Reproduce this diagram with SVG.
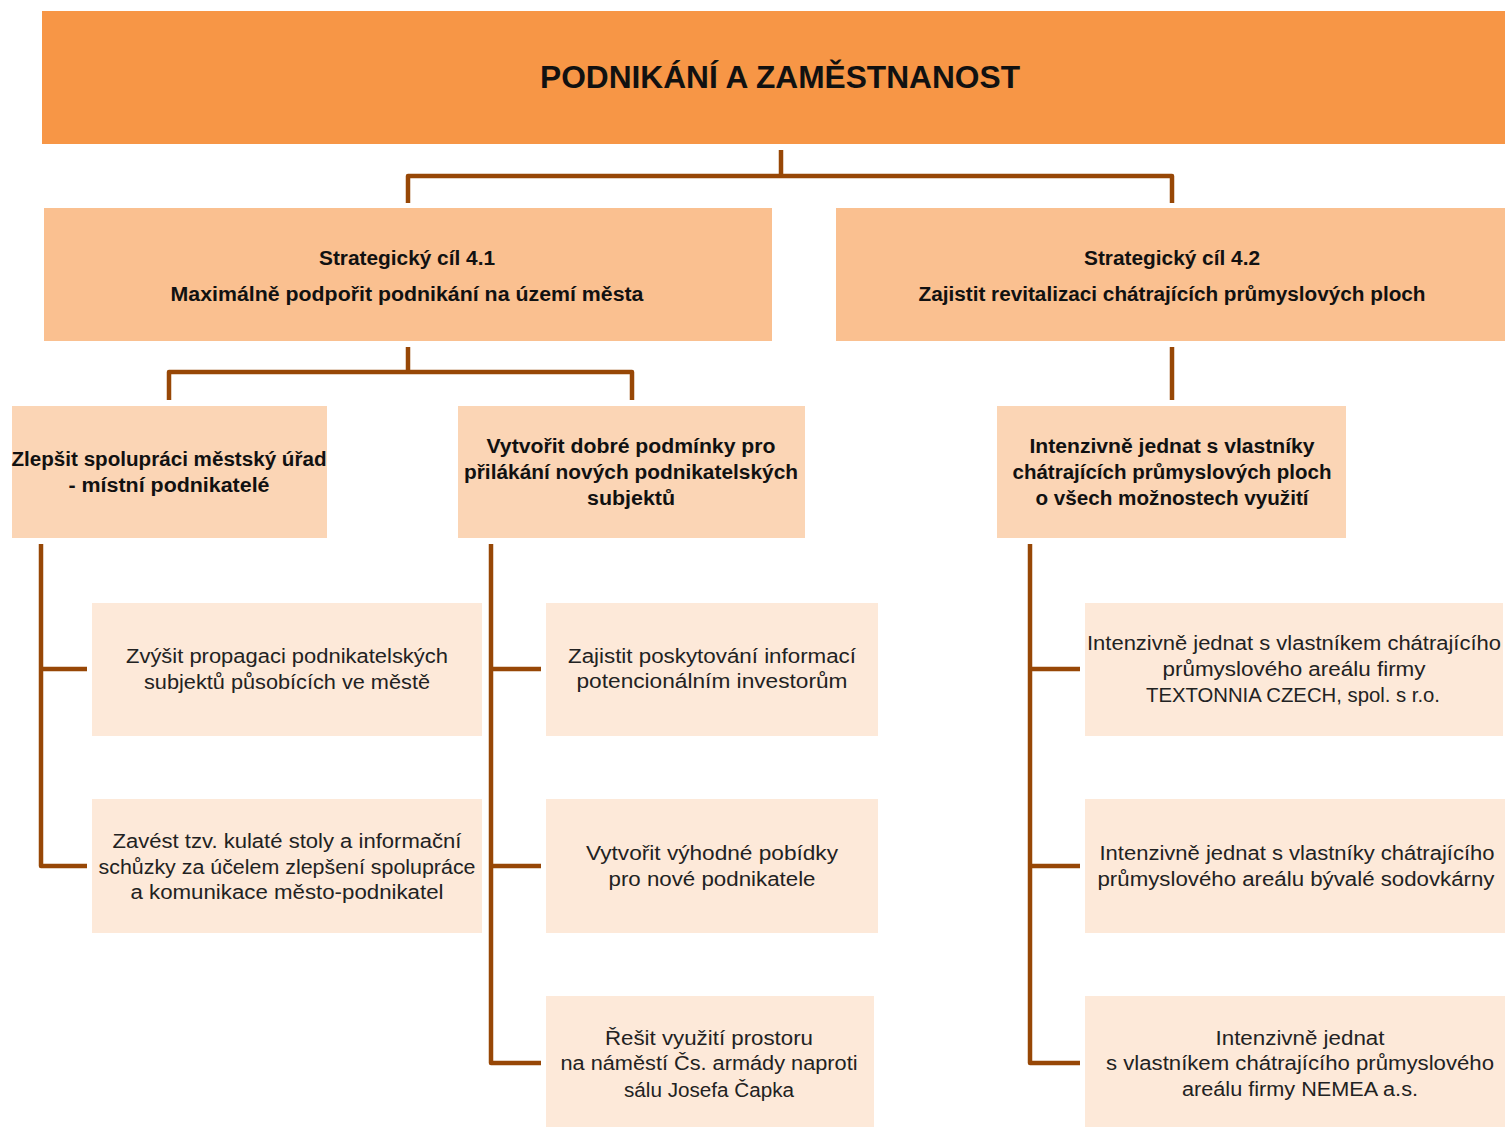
<svg xmlns="http://www.w3.org/2000/svg" width="1505" height="1127" viewBox="0 0 1505 1127">
<style>
.t{font-family:"Liberation Sans",Arial,sans-serif;text-anchor:middle;fill:#111}
.b{font-weight:bold}
.h1{font-size:31px}
.h2{font-size:20px}
.h3{font-size:20px}
.h4{font-size:20px;fill:#222}
.c0{fill:#F79646}
.c1{fill:#FAC090}
.c2{fill:#FBD5B5}
.c3{fill:#FDE9D9}
.con{fill:none;stroke:#974706;stroke-width:4.5;stroke-linejoin:round;stroke-linecap:butt}
</style>
<rect width="1505" height="1127" fill="#fff"/>
<g id="connectors">
<path class="con" d="M781,150 V176 M408,203 V176 H1172 V203"/>
<path class="con" d="M408,347 V372 M169,400 V372 H632 V400"/>
<path class="con" d="M1172,347 V400"/>
<path class="con" d="M41,544 V866 H87 M41,669 H87"/>
<path class="con" d="M491,544 V1063 H541 M491,669 H541 M491,866 H541"/>
<path class="con" d="M1030,544 V1063 H1080 M1030,669 H1080 M1030,866 H1080"/>
</g>
<g id="root">
<rect class="c0" x="42" y="11" width="1463" height="133"/>
<text class="t b h1" x="780" y="88" textLength="480" lengthAdjust="spacingAndGlyphs">PODNIKÁNÍ A ZAMĚSTNANOST</text>
</g>
<g id="goal41">
<rect class="c1" x="44" y="208" width="728" height="133"/>
<text class="t b h2" x="407" y="265" textLength="176" lengthAdjust="spacingAndGlyphs">Strategický cíl 4.1</text>
<text class="t b h2" x="407" y="301" textLength="473" lengthAdjust="spacingAndGlyphs">Maximálně podpořit podnikání na území města</text>
</g>
<g id="goal42">
<rect class="c1" x="836" y="208" width="669" height="133"/>
<text class="t b h2" x="1172" y="265" textLength="176" lengthAdjust="spacingAndGlyphs">Strategický cíl 4.2</text>
<text class="t b h2" x="1172" y="301" textLength="507" lengthAdjust="spacingAndGlyphs">Zajistit revitalizaci chátrajících průmyslových ploch</text>
</g>
<g id="sub1">
<rect class="c2" x="12" y="406" width="315" height="132"/>
<text class="t b h3" x="169" y="466" textLength="315" lengthAdjust="spacingAndGlyphs">Zlepšit spolupráci městský úřad</text>
<text class="t b h3" x="169" y="492" textLength="201" lengthAdjust="spacingAndGlyphs">- místní podnikatelé</text>
</g>
<g id="sub2">
<rect class="c2" x="458" y="406" width="347" height="132"/>
<text class="t b h3" x="631" y="453" textLength="289" lengthAdjust="spacingAndGlyphs">Vytvořit dobré podmínky pro</text>
<text class="t b h3" x="631" y="479" textLength="334" lengthAdjust="spacingAndGlyphs">přilákání nových podnikatelských</text>
<text class="t b h3" x="631" y="505" textLength="88" lengthAdjust="spacingAndGlyphs">subjektů</text>
</g>
<g id="sub3">
<rect class="c2" x="997" y="406" width="349" height="132"/>
<text class="t b h3" x="1172" y="453" textLength="285" lengthAdjust="spacingAndGlyphs">Intenzivně jednat s vlastníky</text>
<text class="t b h3" x="1172" y="479" textLength="319" lengthAdjust="spacingAndGlyphs">chátrajících průmyslových ploch</text>
<text class="t b h3" x="1172" y="505" textLength="273" lengthAdjust="spacingAndGlyphs">o všech možnostech využití</text>
</g>
<g id="a1">
<rect class="c3" x="92" y="603" width="390" height="133"/>
<text class="t h4" x="287" y="663" textLength="322" lengthAdjust="spacingAndGlyphs">Zvýšit propagaci podnikatelských</text>
<text class="t h4" x="287" y="689" textLength="286" lengthAdjust="spacingAndGlyphs">subjektů působících ve městě</text>
</g>
<g id="a2">
<rect class="c3" x="92" y="799" width="390" height="134"/>
<text class="t h4" x="287" y="848" textLength="349" lengthAdjust="spacingAndGlyphs">Zavést tzv. kulaté stoly a informační</text>
<text class="t h4" x="287" y="874" textLength="377" lengthAdjust="spacingAndGlyphs">schůzky za účelem zlepšení spolupráce</text>
<text class="t h4" x="287" y="899" textLength="313" lengthAdjust="spacingAndGlyphs">a komunikace město-podnikatel</text>
</g>
<g id="b1">
<rect class="c3" x="546" y="603" width="332" height="133"/>
<text class="t h4" x="712" y="663" textLength="288" lengthAdjust="spacingAndGlyphs">Zajistit poskytování informací</text>
<text class="t h4" x="712" y="688" textLength="271" lengthAdjust="spacingAndGlyphs">potencionálním investorům</text>
</g>
<g id="b2">
<rect class="c3" x="546" y="799" width="332" height="134"/>
<text class="t h4" x="712" y="860" textLength="252" lengthAdjust="spacingAndGlyphs">Vytvořit výhodné pobídky</text>
<text class="t h4" x="712" y="886" textLength="207" lengthAdjust="spacingAndGlyphs">pro nové podnikatele</text>
</g>
<g id="b3">
<rect class="c3" x="546" y="996" width="328" height="131"/>
<text class="t h4" x="709" y="1045" textLength="208" lengthAdjust="spacingAndGlyphs">Řešit využití prostoru</text>
<text class="t h4" x="709" y="1070" textLength="297" lengthAdjust="spacingAndGlyphs">na náměstí Čs. armády naproti</text>
<text class="t h4" x="709" y="1097" textLength="170" lengthAdjust="spacingAndGlyphs">sálu Josefa Čapka</text>
</g>
<g id="c1">
<rect class="c3" x="1085" y="603" width="418" height="133"/>
<text class="t h4" x="1294" y="650" textLength="414" lengthAdjust="spacingAndGlyphs">Intenzivně jednat s vlastníkem chátrajícího</text>
<text class="t h4" x="1294" y="676" textLength="263" lengthAdjust="spacingAndGlyphs">průmyslového areálu firmy</text>
<text class="t h4" x="1293" y="702" textLength="294" lengthAdjust="spacingAndGlyphs">TEXTONNIA CZECH, spol. s r.o.</text>
</g>
<g id="c2">
<rect class="c3" x="1085" y="799" width="420" height="134"/>
<text class="t h4" x="1297" y="860" textLength="395" lengthAdjust="spacingAndGlyphs">Intenzivně jednat s vlastníky chátrajícího</text>
<text class="t h4" x="1296" y="886" textLength="397" lengthAdjust="spacingAndGlyphs">průmyslového areálu bývalé sodovkárny</text>
</g>
<g id="c3">
<rect class="c3" x="1085" y="996" width="420" height="131"/>
<text class="t h4" x="1300" y="1045" textLength="169" lengthAdjust="spacingAndGlyphs">Intenzivně jednat</text>
<text class="t h4" x="1300" y="1070" textLength="388" lengthAdjust="spacingAndGlyphs">s vlastníkem chátrajícího průmyslového</text>
<text class="t h4" x="1300" y="1096" textLength="236" lengthAdjust="spacingAndGlyphs">areálu firmy NEMEA a.s.</text>
</g>
</svg>
